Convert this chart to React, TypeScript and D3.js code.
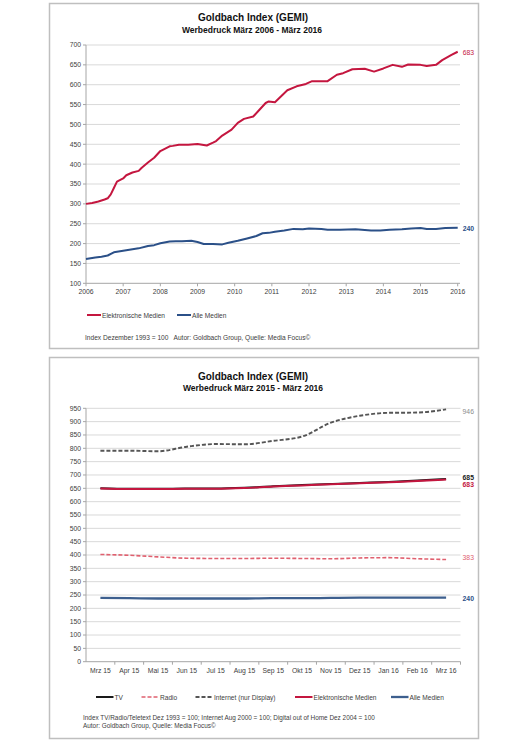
import * as d3 from 'd3';

// Chart 1: Werbedruck März 2006 - März 2016 (month offset from März 2006)
const elekMonths = [0, 2, 4, 6, 7, 8, 9, 10, 12, 13, 15, 17, 18, 20, 22, 24, 27, 28, 30, 33, 36, 39, 41, 42, 44, 47, 49, 51, 54, 56, 58, 59, 61, 63, 65, 68, 71, 73, 78, 81, 83, 86, 90, 93, 96, 99, 102, 104, 108, 110, 113, 115, 118, 120];
const elekValues = [300, 302, 306, 311, 314, 324, 340, 356, 364, 372, 379, 383, 391, 404, 416, 433, 445, 446, 449, 449, 451, 447, 454, 458, 472, 487, 504, 514, 520, 537, 554, 558, 556, 571, 586, 596, 602, 609, 609, 625, 629, 639, 640, 633, 641, 650, 645, 651, 650, 647, 650, 662, 675, 683];
const alleMonths = [0, 3, 5, 7, 9, 12, 15, 17, 20, 22, 24, 27, 29, 31, 34, 36, 38, 41, 44, 46, 49, 52, 55, 57, 59, 61, 64, 67, 70, 72, 76, 78, 82, 87, 92, 95, 98, 102, 105, 108, 110, 113, 116, 120];
const alleValues = [161, 165, 167, 170, 178, 182, 186, 188, 194, 196, 201, 205, 206, 206, 207, 204, 199, 199, 198, 202, 207, 213, 219, 226, 227, 230, 233, 237, 236, 238, 237, 235, 235, 236, 233, 233, 235, 236, 238, 239, 237, 237, 239, 240];
const yearLabels = ['2006', '2007', '2008', '2009', '2010', '2011', '2012', '2013', '2014', '2015', '2016'];
const topTicks = [100, 150, 200, 250, 300, 350, 400, 450, 500, 550, 600, 650, 700];

// Chart 2: Werbedruck März 2015 - März 2016
const monthLabels = ['Mrz 15', 'Apr 15', 'Mai 15', 'Jun 15', 'Jul 15', 'Aug 15', 'Sep 15', 'Okt 15', 'Nov 15', 'Dez 15', 'Jan 16', 'Feb 16', 'Mrz 16'];
const tv = [650, 648, 648, 649, 649, 652, 658, 662, 666, 670, 674, 679, 685];
const radio = [402, 399, 393, 388, 387, 387, 388, 387, 386, 389, 390, 386, 383];
const internet = [791, 791, 789, 806, 816, 815, 828, 844, 896, 922, 933, 934, 946];
const elektronisch = [649, 647, 647, 648, 648, 651, 657, 661, 665, 669, 673, 677, 683];
const alleMedien = [239, 238, 237, 237, 237, 237, 238, 238, 239, 240, 240, 240, 240];
const bottomTicks = d3.range(0, 951, 50);

const FONT = '"Liberation Sans", Arial, sans-serif';
const RED = '#c4163f';
const BLUE = '#2b5088';
const GRID = '#d9d9d9';
const AXIS = '#a6a6a6';
const TEXT = '#404040';

function TopChart() {
  const x = d3.scaleLinear().domain([0, 120]).range([86, 457.7]);
  const y = d3.scaleLinear().domain([100, 700]).range([283.3, 45]);
  const line = d3.line<[number, number]>().x((d) => x(d[0])).y((d) => y(d[1]));
  const elek = elekMonths.map((m, i) => [m, elekValues[i]] as [number, number]);
  const alle = alleMonths.map((m, i) => [m, alleValues[i]] as [number, number]);

  return (
    <g>
      <rect x={49.5} y={3.5} width={429} height={345} fill="#fff" stroke="#bfbfbf" strokeWidth={1.5} />
      <text x={253} y={21} textAnchor="middle" fontSize={10} fontWeight="bold" fill="#111">Goldbach Index (GEMI)</text>
      <text x={252} y={32.5} textAnchor="middle" fontSize={8.5} fontWeight="bold" fill="#111">Werbedruck März 2006 - März 2016</text>

      {topTicks.map((t) => (
        <g key={t}>
          {t > 100 && <line x1={x(0)} x2={460} y1={y(t)} y2={y(t)} stroke={GRID} strokeWidth={1} />}
          <line x1={x(0) - 3} x2={x(0)} y1={y(t)} y2={y(t)} stroke={AXIS} />
          <text x={81} y={y(t) + 2.4} textAnchor="end" fontSize={6.8} fill={TEXT}>{t}</text>
        </g>
      ))}
      <line x1={x(0)} x2={x(0)} y1={y(700)} y2={y(100)} stroke={AXIS} />
      <line x1={x(0)} x2={460} y1={y(100)} y2={y(100)} stroke={AXIS} />
      {yearLabels.map((lbl, i) => (
        <g key={lbl}>
          <line x1={x(i * 12)} x2={x(i * 12)} y1={y(100)} y2={y(100) + 3} stroke={AXIS} />
          <text x={x(i * 12)} y={293.5} textAnchor="middle" fontSize={6.8} fill={TEXT}>{lbl}</text>
        </g>
      ))}

      <path d={line(alle) ?? ''} fill="none" stroke={BLUE} strokeWidth={2} strokeLinejoin="round" />
      <path d={line(elek) ?? ''} fill="none" stroke={RED} strokeWidth={2} strokeLinejoin="round" />
      <text x={x(120) + 5} y={y(683) + 3.5} fontSize={6.8} fill={RED}>683</text>
      <text x={x(120) + 5} y={y(240) + 3.5} fontSize={6.8} fontWeight="bold" fill={BLUE}>240</text>

      <line x1={87} x2={101} y1={315} y2={315} stroke={RED} strokeWidth={2} />
      <text x={102} y={317.5} fontSize={6.6} fill={TEXT}>Elektronische Medien</text>
      <line x1={177} x2={191} y1={315} y2={315} stroke={BLUE} strokeWidth={2} />
      <text x={192} y={317.5} fontSize={6.6} fill={TEXT}>Alle Medien</text>
      <text x={85} y={340} fontSize={6.6} fill={TEXT} style={{ whiteSpace: 'pre' }}>
        {'Index Dezember 1993 = 100   Autor: Goldbach Group, Quelle: Media Focus©'}
      </text>
    </g>
  );
}

function BottomChart() {
  const band = d3.scaleBand().domain(monthLabels).range([86, 460.5]);
  const x = d3.scalePoint().domain(monthLabels).range([86, 460.5]).padding(0.5);
  const y = d3.scaleLinear().domain([0, 950]).range([661.7, 408.3]);
  const line = d3
    .line<number>()
    .x((_, i) => x(monthLabels[i]) ?? 0)
    .y((d) => y(d))
    .curve(d3.curveMonotoneX);

  const series = [
    { name: 'TV', values: tv, color: '#1a1a1a', dash: '', width: 2 },
    { name: 'Radio', values: radio, color: '#e0606f', dash: '4 2', width: 1.6 },
    { name: 'Internet (nur Display)', values: internet, color: '#555555', dash: '4 2', width: 1.9 },
    { name: 'Elektronische Medien', values: elektronisch, color: RED, dash: '', width: 2 },
    { name: 'Alle Medien', values: alleMedien, color: '#3d5f8e', dash: '', width: 2.3 },
  ];
  const legendX = [96, 141.5, 195.5, 295, 391];
  const endLabels = [
    { text: '946', v: internet[12], dy: 2, color: '#8c8c8c', bold: false },
    { text: '685', v: tv[12], dy: -1.5, color: '#1a1a1a', bold: true },
    { text: '683', v: elektronisch[12], dy: 5.5, color: RED, bold: true },
    { text: '383', v: radio[12], dy: -1.5, color: '#e0606f', bold: false },
    { text: '240', v: alleMedien[12], dy: 0.5, color: BLUE, bold: true },
  ];
  const xEnd = (x(monthLabels[12]) ?? 0) + 16.5;

  return (
    <g>
      <rect x={49.5} y={357.5} width={429} height={381} fill="#fff" stroke="#bfbfbf" strokeWidth={1.5} />
      <text x={253} y={380} textAnchor="middle" fontSize={10} fontWeight="bold" fill="#111">Goldbach Index (GEMI)</text>
      <text x={253} y={391} textAnchor="middle" fontSize={8.5} fontWeight="bold" fill="#111">Werbedruck März 2015 - März 2016</text>

      {bottomTicks.map((t) => (
        <g key={t}>
          {t > 0 && <line x1={86} x2={460.5} y1={y(t)} y2={y(t)} stroke={GRID} strokeWidth={1} />}
          <line x1={83} x2={86} y1={y(t)} y2={y(t)} stroke={AXIS} />
          <text x={81} y={y(t) + 2.4} textAnchor="end" fontSize={6.8} fill={TEXT}>{t}</text>
        </g>
      ))}
      <line x1={86} x2={86} y1={y(950)} y2={y(0)} stroke={AXIS} />
      <line x1={86} x2={460.5} y1={y(0)} y2={y(0)} stroke={AXIS} />
      {monthLabels.map((m) => (
        <g key={m}>
          <line x1={(band(m) ?? 0) + band.step()} x2={(band(m) ?? 0) + band.step()} y1={y(0)} y2={y(0) + 3} stroke={AXIS} />
          <text x={x(m)} y={672.5} textAnchor="middle" fontSize={6.8} fill={TEXT}>{m}</text>
        </g>
      ))}

      {series.map((s) => (
        <path key={s.name} d={line(s.values) ?? ''} fill="none" stroke={s.color} strokeWidth={s.width} strokeDasharray={s.dash || undefined} />
      ))}
      {endLabels.map((l) => (
        <text key={l.text + l.color} x={xEnd} y={y(l.v) + l.dy + 2.4} fontSize={6.8} fontWeight={l.bold ? 'bold' : 'normal'} fill={l.color}>{l.text}</text>
      ))}

      {series.map((s, i) => (
        <g key={s.name}>
          <line x1={legendX[i]} x2={legendX[i] + 17.5} y1={697} y2={697} stroke={s.color} strokeWidth={s.width} strokeDasharray={s.dash || undefined} />
          <text x={legendX[i] + 18.5} y={699.5} fontSize={6.6} fill={TEXT}>{s.name}</text>
        </g>
      ))}
      <text x={83} y={719.5} fontSize={6.4} fill={TEXT}>Index TV/Radio/Teletext Dez 1993 = 100; Internet Aug 2000 = 100; Digital out of Home Dez 2004 = 100</text>
      <text x={83} y={727.5} fontSize={6.4} fill={TEXT}>Autor: Goldbach Group, Quelle: Media Focus©</text>
    </g>
  );
}

export default function App() {
  return (
    <svg
      width={528}
      height={741}
      style={{ position: 'absolute', left: 0, top: 0, background: '#fff' }}
      fontFamily={FONT}
    >
      <TopChart />
      <BottomChart />
    </svg>
  );
}
